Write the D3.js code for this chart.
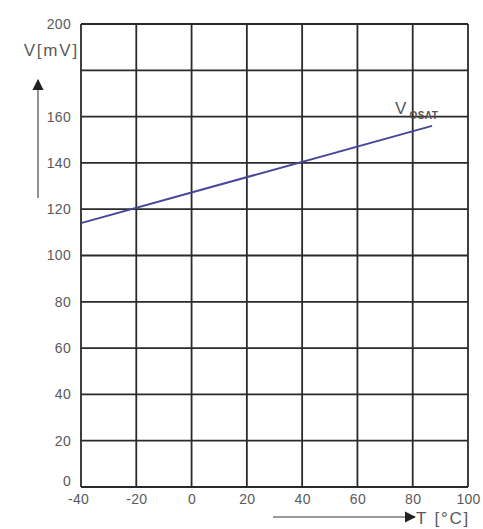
<!DOCTYPE html>
<html>
<head>
<meta charset="utf-8">
<script src="https://cdn.jsdelivr.net/npm/d3@7"></script>
<style>
  html, body { margin: 0; padding: 0; background: #fff; }
  svg { display: block; }
  text { font-family: "Liberation Sans", Arial, sans-serif; }
</style>
</head>
<body>
<svg id="chart" width="483" height="529"></svg>
<script>
// Output voltage vs. temperature
const xTicks = [-40, -20, 0, 20, 40, 60, 80, 100];
const yTicks = [0, 20, 40, 60, 80, 100, 120, 140, 160, 200];
const yGrid = [0, 20, 40, 60, 80, 100, 120, 140, 160, 180, 200];
const tempC = [-40, 87];
const voltMV = [114, 156];
const seriesName = "V";
const seriesSub = "OSAT";

const svg = d3.select("#chart");
const x = d3.scaleLinear().domain([-40, 100]).range([81, 468]);
const y = d3.scaleLinear().domain([0, 200]).range([487, 24]);

const gridColor = "#2a2a2a";
const labelColor = "#5a5a5a";
const plain = d => String(d);

// Grid
svg.append("g").selectAll("line").data(xTicks).join("line")
  .attr("x1", d => x(d)).attr("x2", d => x(d))
  .attr("y1", y(0)).attr("y2", y(200))
  .attr("stroke", gridColor).attr("stroke-width", 1.8);
svg.append("g").selectAll("line").data(yGrid).join("line")
  .attr("x1", x(-40)).attr("x2", x(100))
  .attr("y1", d => y(d)).attr("y2", d => y(d))
  .attr("stroke", gridColor).attr("stroke-width", 1.8);

// Axes tick labels
const xAxis = d3.axisBottom(x).tickValues(xTicks).tickFormat(plain).tickSize(0).tickPadding(7);
const gx = svg.append("g").attr("transform", `translate(0,${y(0)})`).call(xAxis);
gx.select(".domain").remove();
gx.selectAll("text").attr("fill", labelColor).attr("font-size", 14)
  .attr("font-family", "Liberation Sans, Arial, sans-serif")
  .attr("letter-spacing", 0.3)
  .attr("dx", d => d === -40 ? -3 : 0);

const yAxis = d3.axisLeft(y).tickValues(yTicks).tickFormat(plain).tickSize(0).tickPadding(10);
const gy = svg.append("g").attr("transform", `translate(${x(-40)},0)`).call(yAxis);
gy.select(".domain").remove();
gy.selectAll("text").attr("fill", labelColor).attr("font-size", 14)
  .attr("font-family", "Liberation Sans, Arial, sans-serif")
  .attr("letter-spacing", 0.3)
  .attr("dy", d => d === 0 ? "-0.1em" : "0.32em");

// Series line
const pts = tempC.map((t, i) => [t, voltMV[i]]);
svg.append("path")
  .datum(pts)
  .attr("d", d3.line().x(d => x(d[0])).y(d => y(d[1])))
  .attr("fill", "none").attr("stroke", "#47479a").attr("stroke-width", 2);

// Series label
const lbl = svg.append("text").attr("x", x(87) - 37).attr("y", y(156) - 12)
  .attr("fill", "#555").attr("font-size", 17);
lbl.append("tspan").text(seriesName);
lbl.append("tspan").attr("dy", 5).attr("dx", 3).attr("font-size", 10)
  .attr("font-weight", "bold").attr("letter-spacing", 0.5).text(seriesSub);

// Axis titles with arrows
svg.append("defs").append("marker")
  .attr("id", "arr").attr("viewBox", "0 0 10 10").attr("refX", 9).attr("refY", 5)
  .attr("markerWidth", 7).attr("markerHeight", 7).attr("orient", "auto-start-reverse")
  .append("path").attr("d", "M0,0 L10,5 L0,10 z").attr("fill", "#222");

svg.append("text").attr("x", 79).attr("y", 56).attr("text-anchor", "end")
  .attr("fill", labelColor).attr("font-size", 17).attr("letter-spacing", 1.8).text("V[mV]");
svg.append("line").attr("x1", 38).attr("x2", 38).attr("y1", 198).attr("y2", 80)
  .attr("stroke", "#777").attr("stroke-width", 1.6).attr("marker-end", "url(#arr)");

svg.append("line").attr("x1", 273).attr("x2", 415).attr("y1", 517).attr("y2", 517)
  .attr("stroke", "#777").attr("stroke-width", 1.6).attr("marker-end", "url(#arr)");
svg.append("text").attr("x", 416).attr("y", 524)
  .attr("fill", labelColor).attr("font-size", 17).attr("letter-spacing", 1.8).text("T [°C]");
</script>
</body>
</html>
